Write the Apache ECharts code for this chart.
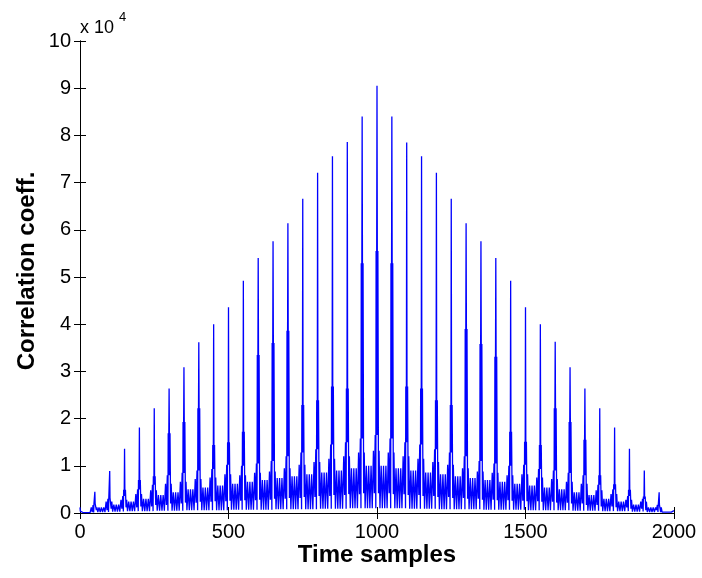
<!DOCTYPE html>
<html>
<head>
<meta charset="utf-8">
<script src="https://cdn.jsdelivr.net/npm/echarts@6/dist/echarts.min.js"></script>
<style>
html,body{margin:0;padding:0;background:#fff;}
#chart{width:702px;height:578px;}
</style>
</head>
<body>
<div id="chart"></div>
<script>
// Values in units of 10^4.
// Main peak at each lag 0,50,...,2000
var peakVals = [0.12,0.45,0.89,1.36,1.81,2.22,2.64,3.09,3.62,4.00,4.36,4.92,5.40,5.76,6.14,6.66,7.21,7.56,7.86,8.40,9.05,
                8.40,7.85,7.56,7.21,6.66,6.14,5.76,5.40,4.92,4.36,4.00,3.63,3.09,2.64,2.22,1.81,1.36,0.90,0.44,0.05];
// Thick band next to each peak
var bandVals = [0.04,0.20,0.32,0.49,0.70,0.78,1.69,1.93,2.22,1.44,1.50,1.72,3.35,3.60,3.86,2.29,2.39,2.68,2.64,5.29,5.55,
                5.29,2.68,2.64,2.39,2.29,3.90,3.58,3.31,1.72,1.51,1.44,2.22,1.93,1.55,0.80,0.61,0.49,0.35,0.17,0.05];
// Hump top around each peak
var baseVals = [0.05,0.17,0.30,0.36,0.50,0.60,0.80,0.85,0.90,0.93,1.02,1.00,1.05,1.10,1.20,1.28,1.35,1.45,1.50,1.58,1.65,
                1.58,1.50,1.45,1.35,1.28,1.20,1.10,1.05,1.00,1.02,0.93,0.90,0.85,0.80,0.60,0.50,0.36,0.30,0.17,0.05];
// Skirt level about 8 samples away from each peak
var skirtVals = [0.04,0.12,0.24,0.28,0.40,0.48,0.62,0.66,0.72,0.75,0.82,0.80,0.85,0.88,0.95,1.02,1.08,1.15,1.20,1.28,1.32,
                 1.28,1.20,1.15,1.08,1.02,0.95,0.88,0.85,0.80,0.82,0.75,0.72,0.66,0.62,0.48,0.40,0.28,0.24,0.12,0.04];
// Middle of each 50-sample period
var midVals = [0.05,0.12,0.18,0.24,0.30,0.38,0.44,0.50,0.54,0.58,0.62,0.66,0.70,0.74,0.78,0.82,0.86,0.90,0.95,1.00,
               1.00,0.95,0.90,0.86,0.82,0.78,0.74,0.70,0.66,0.62,0.58,0.54,0.50,0.44,0.38,0.30,0.24,0.18,0.12,0.04];
// Deep and shallow lows inside each period
var troughA = [0.01,0.02,0.03,0.04,0.04,0.05,0.05,0.06,0.06,0.06,0.07,0.07,0.07,0.08,0.08,0.08,0.09,0.09,0.10,0.10,
               0.10,0.10,0.09,0.09,0.08,0.08,0.08,0.07,0.07,0.07,0.06,0.06,0.06,0.05,0.05,0.04,0.04,0.03,0.02,0.02];
var troughB = [0.02,0.06,0.09,0.12,0.14,0.17,0.20,0.22,0.24,0.25,0.26,0.27,0.28,0.30,0.32,0.34,0.36,0.38,0.40,0.42,
               0.42,0.40,0.38,0.36,0.34,0.32,0.30,0.28,0.27,0.26,0.25,0.24,0.22,0.20,0.17,0.14,0.12,0.09,0.06,0.02];
var xTicks = [0, 500, 1000, 1500, 2000];
var yTicks = [0,1,2,3,4,5,6,7,8,9,10];
var period = 50;

// Build the series point list from the arrays (lag offsets within each period)
var data = [];
for (var k = 0; k < peakVals.length - 1; k++) {
  var L = k * period;
  var seq = [
    [0, peakVals[k]], [1, bandVals[k]], [2, baseVals[k]], [3, bandVals[k]], [5, troughB[k]],
    [7, skirtVals[k]], [10, troughA[k]], [14, midVals[k]], [18, troughA[k]], [22, midVals[k]],
    [26, troughA[k]], [30, midVals[k]], [34, troughA[k]], [38, skirtVals[k+1]], [41, troughB[k]],
    [44, baseVals[k+1]], [46, troughA[k]], [47, bandVals[k+1]], [48, baseVals[k+1]], [49, bandVals[k+1]]
  ];
  for (var i = 0; i < seq.length; i++) data.push([L + seq[i][0], seq[i][1]]);
}
data.push([2000, peakVals[peakVals.length - 1]]);

var font = 'Liberation Sans, Arial, sans-serif';
var chart = echarts.init(document.getElementById('chart'), null, {renderer: 'canvas'});
var axisLine = {show: true, lineStyle: {color: '#000', width: 1}};
chart.setOption({
  animation: false,
  backgroundColor: '#fff',
  grid: {left: 80, top: 41, right: 28, bottom: 65, containLabel: false},
  xAxis: [
    {type: 'value', position: 'bottom', min: xTicks[0], max: xTicks[xTicks.length-1], interval: 500,
     axisLine: axisLine, axisTick: {inside: true, length: 6, lineStyle: {color: '#000'}},
     axisLabel: {color: '#000', fontSize: 20, fontFamily: font, margin: 9, formatter: function (v) { return String(v); }},
     splitLine: {show: false}},
    {type: 'value', position: 'top', min: xTicks[0], max: xTicks[xTicks.length-1], interval: 500,
     axisLine: axisLine, axisTick: {inside: true, length: 6, lineStyle: {color: '#000'}},
     axisLabel: {show: false}, splitLine: {show: false}}
  ],
  yAxis: [
    {type: 'value', position: 'left', min: yTicks[0], max: yTicks[yTicks.length-1], interval: 1,
     axisLine: axisLine, axisTick: {inside: true, length: 6, lineStyle: {color: '#000'}},
     axisLabel: {color: '#000', fontSize: 20, fontFamily: font, margin: 9, formatter: function (v) { return String(v); }},
     splitLine: {show: false}},
    {type: 'value', position: 'right', min: yTicks[0], max: yTicks[yTicks.length-1], interval: 1,
     axisLine: axisLine, axisTick: {inside: true, length: 6, lineStyle: {color: '#000'}},
     axisLabel: {show: false}, splitLine: {show: false}}
  ],
  series: [{
    type: 'line', xAxisIndex: 0, yAxisIndex: 0, data: data,
    showSymbol: false, symbol: 'none',
    lineStyle: {color: '#0000ff', width: 1.3},
    z: 1
  }],
  graphic: [
    {type: 'text', x: 377, y: 555, style: {text: 'Time samples', font: 'bold 24px ' + font, fill: '#000', textAlign: 'center', textVerticalAlign: 'middle'}},
    {type: 'text', x: 27, y: 271, rotation: Math.PI / 2, style: {text: 'Correlation coeff.', font: 'bold 24px ' + font, fill: '#000', textAlign: 'center', textVerticalAlign: 'middle'}},
    {type: 'text', x: 80, y: 28, style: {text: 'x 10', font: '18px ' + font, fill: '#000', textAlign: 'left', textVerticalAlign: 'middle'}},
    {type: 'text', x: 119, y: 17, style: {text: '4', font: '13px ' + font, fill: '#000', textAlign: 'left', textVerticalAlign: 'middle'}}
  ]
});
</script>
</body>
</html>
